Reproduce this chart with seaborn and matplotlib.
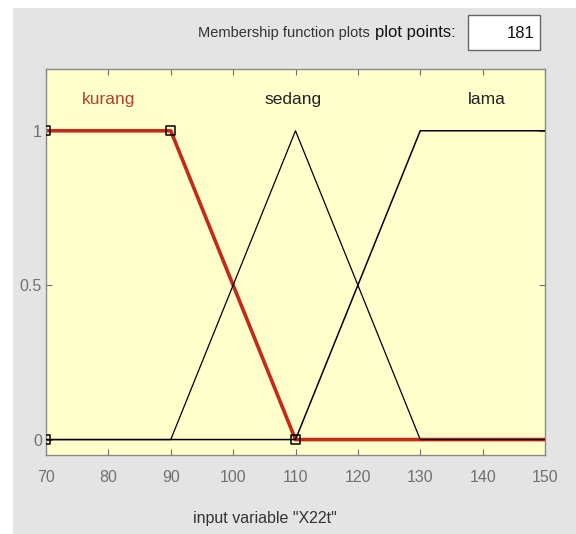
import numpy as np
import pandas as pd
import matplotlib.pyplot as plt
import matplotlib.patches as mpatches
import seaborn as sns

# membership functions for input variable "X22t"
mf_names = ['kurang', 'sedang', 'lama']
kurang_x = [70, 90, 110, 150]
kurang_y = [1, 1, 0, 0]
sedang_x = [70, 90, 110, 130, 150]
sedang_y = [0, 0, 1, 0, 0]
lama_x = [70, 110, 130, 150]
lama_y = [0, 0, 1, 1]
# parameter points of the selected MF (kurang)
param_x = [70, 70, 90, 110]
param_y = [0, 1, 1, 0]
label_x = [80, 109.6, 140.7]
x_ticks = [70, 80, 90, 100, 110, 120, 130, 140, 150]
y_ticks = [0, 0.5, 1]
y_ticklabels = ['0', '0.5', '1']

sns.set_style('white')
plt.rcParams['font.family'] = ['Liberation Sans', 'DejaVu Sans']

fig = plt.figure(figsize=(5.76, 5.34), dpi=100, facecolor='white')
# gray panel of the GUI window
fig.patches.append(mpatches.Rectangle((13 / 576, 0), 1, (534 - 8) / 534,
                                      transform=fig.transFigure,
                                      facecolor='#e4e4e4', edgecolor='none', zorder=-5))
# plot points box (sunken edit field)
fig.patches.append(mpatches.Rectangle((468 / 576, 1 - 50 / 534), 72 / 576, 35 / 534,
                                      transform=fig.transFigure,
                                      facecolor='white', edgecolor='#666666', lw=1, zorder=-4))

ax = fig.add_axes([46 / 576, 1 - 455 / 534, (545 - 46) / 576, (455 - 69) / 534])
ax.set_zorder(5)
ax.set_facecolor('#ffffcc')

red = '#c42a18'
sns.lineplot(x=kurang_x, y=kurang_y, ax=ax, color=red, lw=2.6, sort=False,
             estimator=None, zorder=2)
sns.lineplot(x=sedang_x, y=sedang_y, ax=ax, color='black', lw=0.9, sort=False,
             estimator=None, zorder=3)
sns.lineplot(x=lama_x, y=lama_y, ax=ax, color='black', lw=1.1, sort=False,
             estimator=None, zorder=3)
sns.scatterplot(x=param_x, y=param_y, ax=ax, marker='s', s=40, facecolor='none',
                edgecolor='black', linewidth=1.1, zorder=4)

label_colors = ['#b5402a', '#222222', '#222222']
for name, lx, c in zip(mf_names, label_x, label_colors):
    ax.text(lx, 1.1, name, ha='center', va='center', fontsize=12.5, color=c)

ax.set_xlim(70, 150)
ax.set_ylim(-0.05, 1.2)
ax.set_xticks(x_ticks)
ax.set_xticklabels([str(t) for t in x_ticks])
ax.set_yticks(y_ticks)
ax.set_yticklabels(y_ticklabels)
ax.tick_params(direction='in', length=4, width=0.8, color='#707070',
               labelcolor='#707070', labelsize=11.5,
               top=True, right=True, bottom=True, left=True)
ax.tick_params(axis='x', pad=11)
ax.tick_params(axis='y', pad=3)
for s in ax.spines.values():
    s.set_color('#8a8a8a')
    s.set_linewidth(1)
ax.set_xlabel('input variable "X22t"', fontsize=11.5, color='#333333')
ax.xaxis.set_label_coords((265 - 46) / 499, -(518 - 455) / 386)
ax.xaxis.label.set_va('center')
ax.set_ylabel('')

fig.text(370 / 576, 1 - 33 / 534, 'Membership function plots', ha='right', va='center',
         fontsize=10.5, color='#333333')
fig.text(375 / 576, 1 - 32 / 534, 'plot points:', ha='left', va='center',
         fontsize=12, color='#111111')
fig.text(535 / 576, 1 - 34 / 534, '181', ha='right', va='center',
         fontsize=12, color='#111111')

fig.savefig('out.png', dpi=100, facecolor=fig.get_facecolor())
